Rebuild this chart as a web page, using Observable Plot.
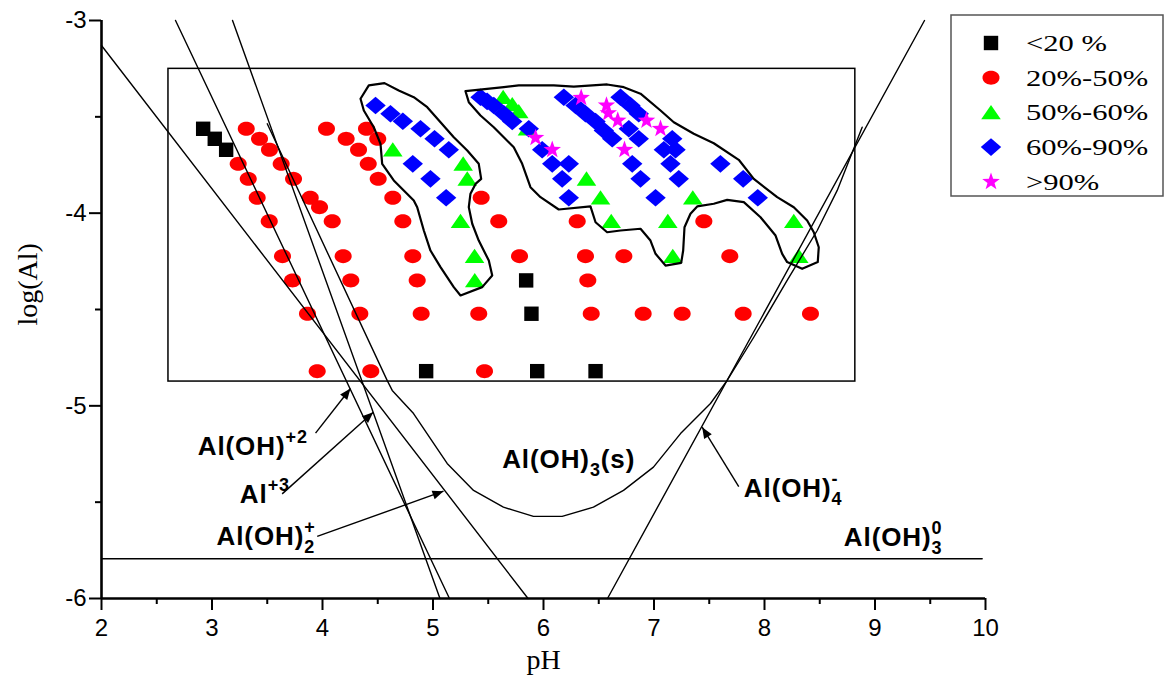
<!DOCTYPE html>
<html>
<head>
<meta charset="utf-8">
<script src="https://cdn.jsdelivr.net/npm/d3@7"></script>
<script src="https://cdn.jsdelivr.net/npm/@observablehq/plot@0.6"></script>
<style>
  html, body { margin: 0; padding: 0; background: #fff; }
  #chart { position: relative; width: 1170px; height: 687px; }
  #chart svg { display: block; }
  #legend { position: absolute; left: 0; top: 0; pointer-events: none; }
  #legend text { font-family: 'Liberation Serif', 'Times New Roman', serif; }
</style>
</head>
<body>
<div id="chart"></div>
<script>
// ---------- axes ----------
const xTicks = [2, 3, 4, 5, 6, 7, 8, 9, 10];
const xMinorTicks = [2.5, 3.5, 4.5, 5.5, 6.5, 7.5, 8.5, 9.5];
const yTicks = [-3, -4, -5, -6];
const yMinorTicks = [-3.5, -4.5, -5.5];

// ---------- removal classes: [pH, log(Al)] ----------
const classNames = ["<20 %", "20%-50%", "50%-60%", "60%-90%", ">90%"];
const classColors = ["#000000", "#ff0000", "#00ff00", "#0000ff", "#ff00ff"];

const below20 = [
  [2.920, -3.562], [3.025, -3.614], [3.128, -3.671],
  [5.843, -4.349], [5.891, -4.522],
  [4.938, -4.820], [5.943, -4.820], [6.471, -4.820]
];

const from20to50 = [
  [3.310, -3.562], [3.430, -3.614], [3.520, -3.671], [3.626, -3.744],
  [3.237, -3.744], [3.328, -3.822], [3.738, -3.822], [3.409, -3.920],
  [3.889, -3.920], [3.973, -3.969], [3.518, -4.042], [4.088, -4.042],
  [3.638, -4.223], [4.187, -4.223], [3.729, -4.349], [4.256, -4.349],
  [3.864, -4.522], [4.338, -4.522], [3.952, -4.820], [4.437, -4.820],
  [4.036, -3.562], [4.214, -3.614], [4.398, -3.562], [4.500, -3.614],
  [4.326, -3.671], [4.414, -3.744], [4.504, -3.822], [4.636, -3.920],
  [4.727, -4.042], [4.817, -4.223], [4.857, -4.349], [4.893, -4.522],
  [5.414, -4.522], [5.466, -4.820], [5.436, -3.920], [5.595, -4.042],
  [5.783, -4.223], [6.380, -4.223], [6.727, -4.223], [7.686, -4.223],
  [6.401, -4.349], [6.432, -4.522], [6.902, -4.522], [7.255, -4.522],
  [7.807, -4.522], [8.416, -4.522], [6.305, -4.042], [7.451, -4.042]
];

const from50to60 = [
  [4.636, -3.671], [5.273, -3.744], [5.310, -3.822], [5.249, -4.042],
  [5.376, -4.223], [5.378, -4.349], [5.635, -3.398], [5.717, -3.436],
  [5.776, -3.472], [5.855, -3.562], [6.389, -3.822], [6.516, -3.920],
  [6.613, -4.042], [7.125, -4.042], [7.170, -4.223], [7.351, -3.920],
  [8.265, -4.042], [8.310, -4.223]
];

const from60to90 = [
  [4.480, -3.441], [4.615, -3.484], [4.727, -3.523], [4.887, -3.562],
  [5.014, -3.614], [5.143, -3.671], [4.817, -3.744], [4.977, -3.822],
  [5.119, -3.920], [5.430, -3.398], [5.490, -3.420], [5.550, -3.441],
  [5.641, -3.484], [5.717, -3.524], [5.867, -3.562], [5.988, -3.671],
  [6.079, -3.744], [6.229, -3.744], [6.169, -3.822], [6.229, -3.920],
  [6.184, -3.398], [6.290, -3.441], [6.380, -3.484], [6.471, -3.524],
  [6.546, -3.571], [6.622, -3.614], [6.697, -3.398], [6.787, -3.441],
  [6.862, -3.484], [6.772, -3.562], [6.862, -3.614], [6.803, -3.744],
  [6.878, -3.822], [7.014, -3.920], [7.165, -3.614], [7.089, -3.671],
  [7.195, -3.671], [7.149, -3.744], [7.224, -3.822], [7.601, -3.744],
  [7.807, -3.822], [7.939, -3.920]
];

const above90 = [
  [6.341, -3.401], [6.570, -3.441], [6.586, -3.481], [6.672, -3.519],
  [6.932, -3.519], [7.059, -3.562], [6.733, -3.671], [5.928, -3.609],
  [6.079, -3.671]
];

// ---------- species boundary lines ----------
const alOHLine    = [[2.670, -3.000], [5.149, -6.000]];   // Al(OH)+2
const al3Line     = [[3.186, -3.000], [5.063, -6.000]];   // Al+3
const alOH2Line   = [[2.000, -3.130], [5.860, -6.000]];   // Al(OH)2+
const alOH4Line   = [[6.579, -6.000], [9.448, -3.000]];   // Al(OH)4-
const alOH3aqLine = [[2.000, -5.794], [9.970, -5.794]];   // Al(OH)3 0

// total solubility of Al(OH)3(s)
const solubilityCurve = [
  [3.500, -3.536], [4.585, -4.868], [4.631, -4.920], [4.824, -5.040],
  [5.128, -5.299], [5.367, -5.439], [5.637, -5.526], [5.909, -5.574],
  [6.169, -5.574], [6.452, -5.526], [6.724, -5.439], [6.995, -5.318],
  [7.240, -5.144], [7.511, -4.988], [7.662, -4.868], [7.903, -4.644],
  [8.205, -4.349], [8.477, -4.090], [8.658, -3.882], [8.884, -3.554]
];

// experimental window
const sampleWindow = [{x1: 2.606, x2: 8.822, y1: -4.874, y2: -3.251}];

// high-removal zones
const zoneLeft = [
  [4.344, -3.406], [4.419, -3.337], [4.561, -3.325], [4.690, -3.363],
  [4.826, -3.398], [4.948, -3.450], [5.068, -3.528], [5.188, -3.606],
  [5.310, -3.675], [5.414, -3.744], [5.436, -3.822], [5.385, -3.848],
  [5.339, -3.899], [5.324, -3.969], [5.355, -4.055], [5.414, -4.142],
  [5.505, -4.246], [5.536, -4.324], [5.445, -4.384], [5.249, -4.427],
  [5.188, -4.384], [5.068, -4.280], [4.977, -4.194], [4.917, -4.090],
  [4.857, -3.969], [4.826, -3.934], [4.645, -3.830], [4.540, -3.744],
  [4.525, -3.640], [4.464, -3.554], [4.374, -3.467]
];

const zoneRight = [
  [5.294, -3.367], [5.324, -3.424], [5.430, -3.493], [5.550, -3.554],
  [5.731, -3.658], [5.807, -3.744], [5.882, -3.865], [5.973, -3.917],
  [6.138, -3.981], [6.425, -3.965], [6.471, -4.047], [6.576, -4.099],
  [6.697, -4.090], [6.878, -4.081], [6.968, -4.142], [7.014, -4.211],
  [7.104, -4.272], [7.246, -4.258], [7.264, -4.194], [7.276, -4.073],
  [7.330, -4.003], [7.391, -3.965], [7.541, -3.951], [7.662, -3.931],
  [7.813, -3.943], [7.964, -4.021], [8.100, -4.116], [8.160, -4.211],
  [8.205, -4.254], [8.341, -4.289], [8.482, -4.254], [8.491, -4.177],
  [8.446, -4.099], [8.386, -4.038], [8.265, -3.969], [8.115, -3.917],
  [7.903, -3.822], [7.767, -3.723], [7.541, -3.637], [7.360, -3.588],
  [7.179, -3.528], [7.059, -3.467], [6.878, -3.380], [6.727, -3.346],
  [6.576, -3.332], [6.274, -3.343], [6.093, -3.337], [5.776, -3.337],
  [5.641, -3.346]
];

// ---------- species labels (anchor in pH / log(Al)) ----------
const speciesLabels = [
  {parts: [["Al(OH)"], ["+2", "sup"]],              pH: 2.871, logAl: -5.210},
  {parts: [["Al"], ["+3", "sup"]],                  pH: 3.252, logAl: -5.463},
  {parts: [["Al(OH)"], ["2", "sub"], ["+", "sup"]], pH: 3.041, logAl: -5.677},
  {parts: [["Al(OH)"], ["3", "sub"], ["(s)"]],      pH: 5.626, logAl: -5.279},
  {parts: [["Al(OH)"], ["4", "sub"], ["-", "sup"]], pH: 7.813, logAl: -5.431},
  {parts: [["Al(OH)"], ["3", "sub"], ["0", "sup"]], pH: 8.718, logAl: -5.682}
];
const labelString = d => d.parts.map(p => p[0]).join("");

const labelArrows = [
  {x1: 3.937, y1: -5.142, x2: 4.253, y2: -4.910},
  {x1: 3.635, y1: -5.457, x2: 4.459, y2: -5.033},
  {x1: 3.952, y1: -5.678, x2: 5.095, y2: -5.443},
  {x1: 7.767, y1: -5.419, x2: 7.436, y2: -5.111}
];

// ---------- layout ----------
const width = 1170, height = 687;
const margin = {top: 20, right: 185, bottom: 89, left: 101};
const xDomain = [2, 10], yDomain = [-6, -3];
const px = d3.scaleLinear(xDomain, [margin.left, width - margin.right]);
const py = d3.scaleLinear(yDomain, [height - margin.bottom, margin.top]);

// ---------- marker shapes ----------
function pathSymbol(points) {
  return {draw(ctx) {
    ctx.moveTo(points[0][0], points[0][1]);
    for (let i = 1; i < points.length; ++i) ctx.lineTo(points[i][0], points[i][1]);
    ctx.closePath();
  }};
}
const squareSym = pathSymbol([[-7.2, -7.2], [7.2, -7.2], [7.2, 7.2], [-7.2, 7.2]]);
const ellipseSym = pathSymbol(d3.range(40).map(i => {
  const a = 2 * Math.PI * i / 40;
  return [8.5 * Math.cos(a), 7 * Math.sin(a)];
}));
const triangleSym = pathSymbol([[0, -7.5], [9.8, 6.8], [-9.8, 6.8]]);
const diamondSym = pathSymbol([[0, -8.8], [10.2, 0], [0, 8.8], [-10.2, 0]]);
const starSym = pathSymbol(d3.range(10).map(i => {
  const r = i % 2 ? 3.7 : 9.2;
  const a = -Math.PI / 2 + i * Math.PI / 5;
  return [r * Math.cos(a), r * Math.sin(a)];
}));
const arrowHeadSym = pathSymbol([[0, 0], [-11, -4.5], [-11, 4.5]]);
const classSymbols = [squareSym, ellipseSym, triangleSym, diamondSym, starSym];
const classData = [below20, from20to50, from50to60, from60to90, above90];

const lineStyle = {x: d => d[0], y: d => d[1], stroke: "#000", strokeWidth: 1.4};
const tickFont = "'Liberation Sans Narrow', 'Liberation Sans', Arial, sans-serif";
const serifFont = "'Liberation Serif', 'Times New Roman', serif";

const plot = Plot.plot({
  width, height,
  marginTop: margin.top, marginRight: margin.right,
  marginBottom: margin.bottom, marginLeft: margin.left,
  x: {domain: xDomain},
  y: {domain: yDomain},
  style: {background: "#fff", color: "#000", overflow: "visible"},
  marks: [
    // measured points
    ...classData.map((data, i) => Plot.dot(data, {
      x: d => d[0], y: d => d[1],
      symbol: classSymbols[i], r: 8, fill: classColors[i], stroke: "none"
    })),

    // experimental window and high-removal zones
    Plot.rect(sampleWindow, {x1: "x1", x2: "x2", y1: "y1", y2: "y2", fill: "none", stroke: "#000", strokeWidth: 1.5}),
    Plot.line(zoneLeft, {x: d => d[0], y: d => d[1], curve: "linear-closed", stroke: "#000", strokeWidth: 2.2}),
    Plot.line(zoneRight, {x: d => d[0], y: d => d[1], curve: "linear-closed", stroke: "#000", strokeWidth: 2.2}),

    // species equilibrium lines
    Plot.line(alOHLine, lineStyle),
    Plot.line(al3Line, lineStyle),
    Plot.line(alOH2Line, lineStyle),
    Plot.line(alOH4Line, lineStyle),
    Plot.line(alOH3aqLine, lineStyle),
    Plot.line(solubilityCurve, lineStyle),

    // label arrows
    Plot.link(labelArrows, {x1: "x1", y1: "y1", x2: "x2", y2: "y2", stroke: "#000", strokeWidth: 1.4}),
    Plot.dot(labelArrows, {
      x: "x2", y: "y2", symbol: arrowHeadSym, r: 6, fill: "#000", stroke: "none",
      rotate: d => Math.atan2(py(d.y2) - py(d.y1), px(d.x2) - px(d.x1)) * 180 / Math.PI
    }),

    // species labels
    Plot.text(speciesLabels, {
      x: "pH", y: "logAl", text: labelString,
      textAnchor: "start", lineAnchor: "middle",
      fontFamily: "'Liberation Sans', Arial, sans-serif", fontWeight: "bold", fontSize: 26,
      fill: "#000"
    }),

    // axes
    Plot.axisX(xTicks, {anchor: "bottom", tickSize: 12, tickPadding: 8, strokeWidth: 2,
      fontSize: 24, fontFamily: tickFont, tickFormat: d => String(d), label: null}),
    Plot.axisX(xMinorTicks, {anchor: "bottom", tickSize: 6, strokeWidth: 2, text: null, label: null}),
    Plot.axisY(yTicks, {anchor: "left", tickSize: 12, tickPadding: 3, strokeWidth: 2,
      fontSize: 24, fontFamily: tickFont, tickFormat: d => String(d), label: null}),
    Plot.axisY(yMinorTicks, {anchor: "left", tickSize: 6, strokeWidth: 2, text: null, label: null}),
    Plot.ruleY([yDomain[0]], {x1: xDomain[0], x2: xDomain[1], stroke: "#000", strokeWidth: 2.6}),
    Plot.ruleX([xDomain[0]], {y1: yDomain[0], y2: yDomain[1], stroke: "#000", strokeWidth: 2.6}),

    // axis titles
    Plot.text(["pH"], {frameAnchor: "bottom", dy: 70, text: d => d, fontFamily: serifFont, fontSize: 28, fill: "#000"}),
    Plot.text(["log(Al)"], {frameAnchor: "left", dx: -73, dy: 16, rotate: -90, text: d => d, fontFamily: serifFont, fontSize: 28, fill: "#000"})
  ]
});

const chart = document.getElementById("chart");
chart.appendChild(plot);

// chemical notation: rebuild each species label with sub/superscript tspans
const svgNS = "http://www.w3.org/2000/svg";
const labelByString = new Map(speciesLabels.map(d => [labelString(d), d]));
plot.querySelectorAll("text").forEach(el => {
  const label = labelByString.get(el.textContent);
  if (!label) return;
  el.textContent = "";
  el.setAttribute("letter-spacing", "0.9");
  let level = 0;          // current baseline offset
  let lastScript = null;  // previous script tspan (for stacked sub/sup)
  for (const [t, kind] of label.parts) {
    const ts = document.createElementNS(svgNS, "tspan");
    ts.textContent = t;
    el.appendChild(ts);
    if (kind === "sub" || kind === "sup") {
      ts.setAttribute("font-size", 18);
      const target = kind === "sub" ? 8 : -12;
      ts.setAttribute("dy", target - level);
      level = target;
      if (lastScript) ts.setAttribute("dx", -lastScript.getComputedTextLength());
      lastScript = ts;
    } else {
      if (level !== 0) ts.setAttribute("dy", -level);
      level = 0;
      lastScript = null;
    }
  }
});

// legend
const legend = d3.select(chart).append("svg")
  .attr("id", "legend").attr("width", width).attr("height", height);
legend.append("rect")
  .attr("x", 951).attr("y", 15).attr("width", 212).attr("height", 181)
  .attr("fill", "#fff").attr("stroke", "#555").attr("stroke-width", 1.5);
const rows = legend.selectAll("g.row").data(classNames).join("g")
  .attr("class", "row")
  .attr("transform", (d, i) => `translate(991,${43 + i * 34.7})`);
rows.append("path")
  .attr("d", (d, i) => d3.symbol(classSymbols[i], 64)())
  .attr("fill", (d, i) => classColors[i]);
rows.append("text")
  .attr("transform", "translate(35,0) scale(1.33,1)")
  .attr("dy", "0.34em")
  .attr("font-size", 23)
  .attr("fill", "#000")
  .text(d => d);
</script>
</body>
</html>
